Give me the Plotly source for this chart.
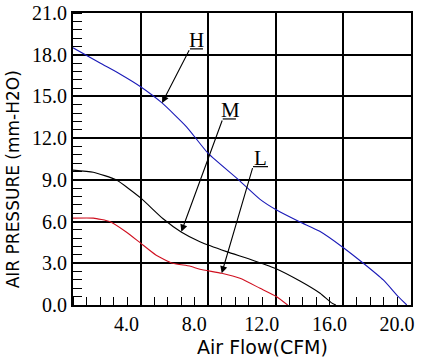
import plotly.graph_objects as go

# ---- data ----
h_flow = [0, 1.6, 2.8, 4.0, 5.25, 6.73, 8.0, 9.8, 11.07, 12.05, 13.43, 14.6, 16.0, 17.18, 18.36, 19.25, 19.75]
h_pres = [18.5, 17.4, 16.6, 15.7, 14.55, 12.8, 10.9, 9.0, 7.6, 6.83, 5.97, 5.3, 4.12, 3.0, 1.8, 0.6, 0.0]

m_flow = [0, 1.2, 2.55, 4.0, 5.33, 6.4, 7.51, 9.09, 10.47, 11.95, 13.43, 14.62, 15.3, 15.55]
m_pres = [9.7, 9.55, 9.0, 7.7, 6.2, 5.25, 4.55, 3.84, 3.29, 2.64, 1.72, 0.84, 0.15, 0.0]

l_flow = [0, 1.2, 2.17, 3.15, 4.0, 4.9, 5.9, 6.9, 7.51, 8.8, 9.88, 11.07, 12.05, 12.7]
l_pres = [6.25, 6.25, 6.0, 5.25, 4.45, 3.6, 3.0, 2.8, 2.57, 2.28, 1.92, 1.2, 0.6, 0.0]

x_ticks = [4, 8, 12, 16, 20]
x_tick_text = ["4.0", "8.0", "12.0", "16.0", "20.0"]
y_ticks = [0, 3, 6, 9, 12, 15, 18, 21]
y_tick_text = ["0.0", "3.0", "6.0", "9.0", "12.0", "15.0", "18.0", "21.0"]

# curve labels: name, text position, leader start, leader end (underline), arrow tip
labels = [
    ("H", (7.32, 19.05), (6.92, 18.42), (7.69, 18.42), (5.27, 14.53)),
    ("M", (9.32, 14.0), (8.86, 13.38), (9.64, 13.38), (6.41, 5.27)),
    ("L", (11.07, 10.57), (10.65, 9.95), (11.54, 9.95), (8.80, 2.28)),
]

fig = go.Figure()
fig.add_trace(go.Scatter(x=h_flow, y=h_pres, mode="lines", line=dict(color="#1a1ab8", width=1.1, shape="spline", smoothing=0.5), name="H"))
fig.add_trace(go.Scatter(x=m_flow, y=m_pres, mode="lines", line=dict(color="#000000", width=1.1, shape="spline", smoothing=0.5), name="M"))
fig.add_trace(go.Scatter(x=l_flow, y=l_pres, mode="lines", line=dict(color="#d01020", width=1.1, shape="spline", smoothing=0.5), name="L"))

annotations = []
shapes = []
for name, tpos, lstart, lend, tip in labels:
    annotations.append(dict(x=tpos[0], y=tpos[1], xref="x", yref="y", text=name, showarrow=False,
                            font=dict(family="Liberation Serif", size=21, color="black")))
    shapes.append(dict(type="line", xref="x", yref="y", x0=lstart[0], y0=lstart[1], x1=lend[0], y1=lend[1],
                       line=dict(color="black", width=1.2)))
    annotations.append(dict(x=tip[0], y=tip[1], xref="x", yref="y", ax=lstart[0], ay=lstart[1],
                            axref="x", ayref="y", text="", showarrow=True, arrowhead=2, arrowsize=1.3,
                            arrowwidth=1.1, arrowcolor="black", standoff=0))

annotations.append(dict(x=-0.175, y=0.43, xref="paper", yref="paper", text="AIR PRESSURE (mm-H2O)",
                        textangle=-90, showarrow=False, xanchor="center", yanchor="middle",
                        font=dict(family="DejaVu Sans", size=17, color="black")))
annotations.append(dict(x=0.56, y=-0.145, xref="paper", yref="paper", text="Air Flow(CFM)",
                        showarrow=False, xanchor="center", yanchor="middle",
                        font=dict(family="DejaVu Sans", size=19, color="black")))

fig.update_layout(
    width=426, height=358,
    margin=dict(l=73, r=15, t=13, b=53),
    paper_bgcolor="white", plot_bgcolor="white",
    showlegend=False,
    annotations=annotations, shapes=shapes,
    xaxis=dict(range=[0, 20], tickvals=x_ticks, ticktext=x_tick_text, showgrid=True, gridcolor="black",
               gridwidth=1.6, showline=True, linecolor="black", linewidth=2, mirror=True,
               ticks="", zeroline=False, ticklabelshift=-14, automargin=False,
               tickfont=dict(family="Liberation Serif", size=20, color="black"),
               minor=dict(tick0=0, dtick=0.8, ticks="inside", ticklen=8, tickcolor="black", tickwidth=1.2, showgrid=False)),
    yaxis=dict(range=[0, 21], tickvals=y_ticks, ticktext=y_tick_text, showgrid=True, gridcolor="black",
               gridwidth=1.6, showline=True, linecolor="black", linewidth=2, mirror=True,
               ticks="", zeroline=False, automargin=False,
               tickfont=dict(family="Liberation Serif", size=20, color="black"),
               minor=dict(tick0=0, dtick=0.6, ticks="inside", ticklen=9, tickcolor="black", tickwidth=1.2, showgrid=False)),
)

fig.write_html("out.html", config={"displayModeBar": False},
               post_script="document.body.style.margin='0';document.body.style.overflow='hidden';")
